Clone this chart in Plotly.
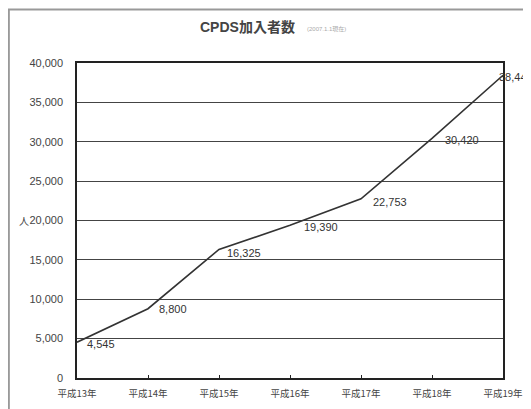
import plotly.graph_objects as go

categories = ["平成13年", "平成14年", "平成15年", "平成16年", "平成17年", "平成18年", "平成19年"]
members = [4545, 8800, 16325, 19390, 22753, 30420, 38443]
y_ticks = [0, 5000, 10000, 15000, 20000, 25000, 30000, 35000, 40000]

# label offsets (style only)
label_dx = [8, 9, 6, 12, 10, 11, -6]
label_dy = [-2, 0, -4, -2, -3, -2, -2]

FONT = "Liberation Sans, Arial, Noto Sans CJK JP, sans-serif"
xs = list(range(len(categories)))

fig = go.Figure()
fig.add_trace(go.Scatter(
    x=xs, y=members, mode="lines",
    line=dict(color="#333333", width=1.6),
    hoverinfo="skip", showlegend=False,
))

annotations = []
for i, v in enumerate(members):
    annotations.append(dict(
        x=xs[i], y=v, xref="x", yref="y",
        text=f"{v:,}", showarrow=False,
        xanchor="left", yanchor="middle",
        xshift=label_dx[i], yshift=label_dy[i],
        font=dict(family=FONT, size=11, color="#333333"),
    ))

annotations.append(dict(
    x=0.401, y=1.114, xref="paper", yref="paper",
    text="<b>CPDS加入者数</b>", showarrow=False,
    xanchor="center", yanchor="middle",
    font=dict(family=FONT, size=14, color="#444444"),
))
annotations.append(dict(
    x=0.535, y=1.108, xref="paper", yref="paper",
    text="(2007.1.1現在)", showarrow=False,
    xanchor="left", yanchor="middle",
    font=dict(family=FONT, size=6, color="#aaaaaa"),
))
annotations.append(dict(
    x=-0.108, y=20000, xref="paper", yref="y",
    text="人", showarrow=False,
    xanchor="right", yanchor="middle",
    font=dict(family="Noto Sans CJK JP", size=10, color="#444444"),
))

fig.update_layout(
    width=531, height=409,
    margin=dict(l=69, r=36, t=55, b=39),
    paper_bgcolor="white", plot_bgcolor="white",
    annotations=annotations,
    shapes=[dict(
        type="rect", xref="paper", yref="paper",
        x0=-0.160, x1=1.0587, y0=-0.15, y1=1.170,
        line=dict(color="#999999", width=2),
    )],
)
fig.update_xaxes(
    range=[0, 6], tickvals=xs, ticktext=categories,
    showgrid=False, zeroline=False, automargin=False,
    showline=True, linecolor="#222222", linewidth=1.5, mirror=True,
    ticks="inside", ticklen=3, tickcolor="#222222",
    ticklabelstandoff=6,
    tickfont=dict(family="Noto Sans CJK JP, sans-serif", size=9.5, color="#444444"),
)
fig.update_yaxes(
    range=[0, 40000], tickvals=y_ticks, tickformat=",",
    showgrid=True, gridcolor="#444444", gridwidth=1,
    zeroline=False, automargin=False,
    showline=True, linecolor="#222222", linewidth=1.5, mirror=True,
    ticks="", ticklabelstandoff=10,
    tickfont=dict(family=FONT, size=11, color="#444444"),
)

fig.write_html("out.html")
